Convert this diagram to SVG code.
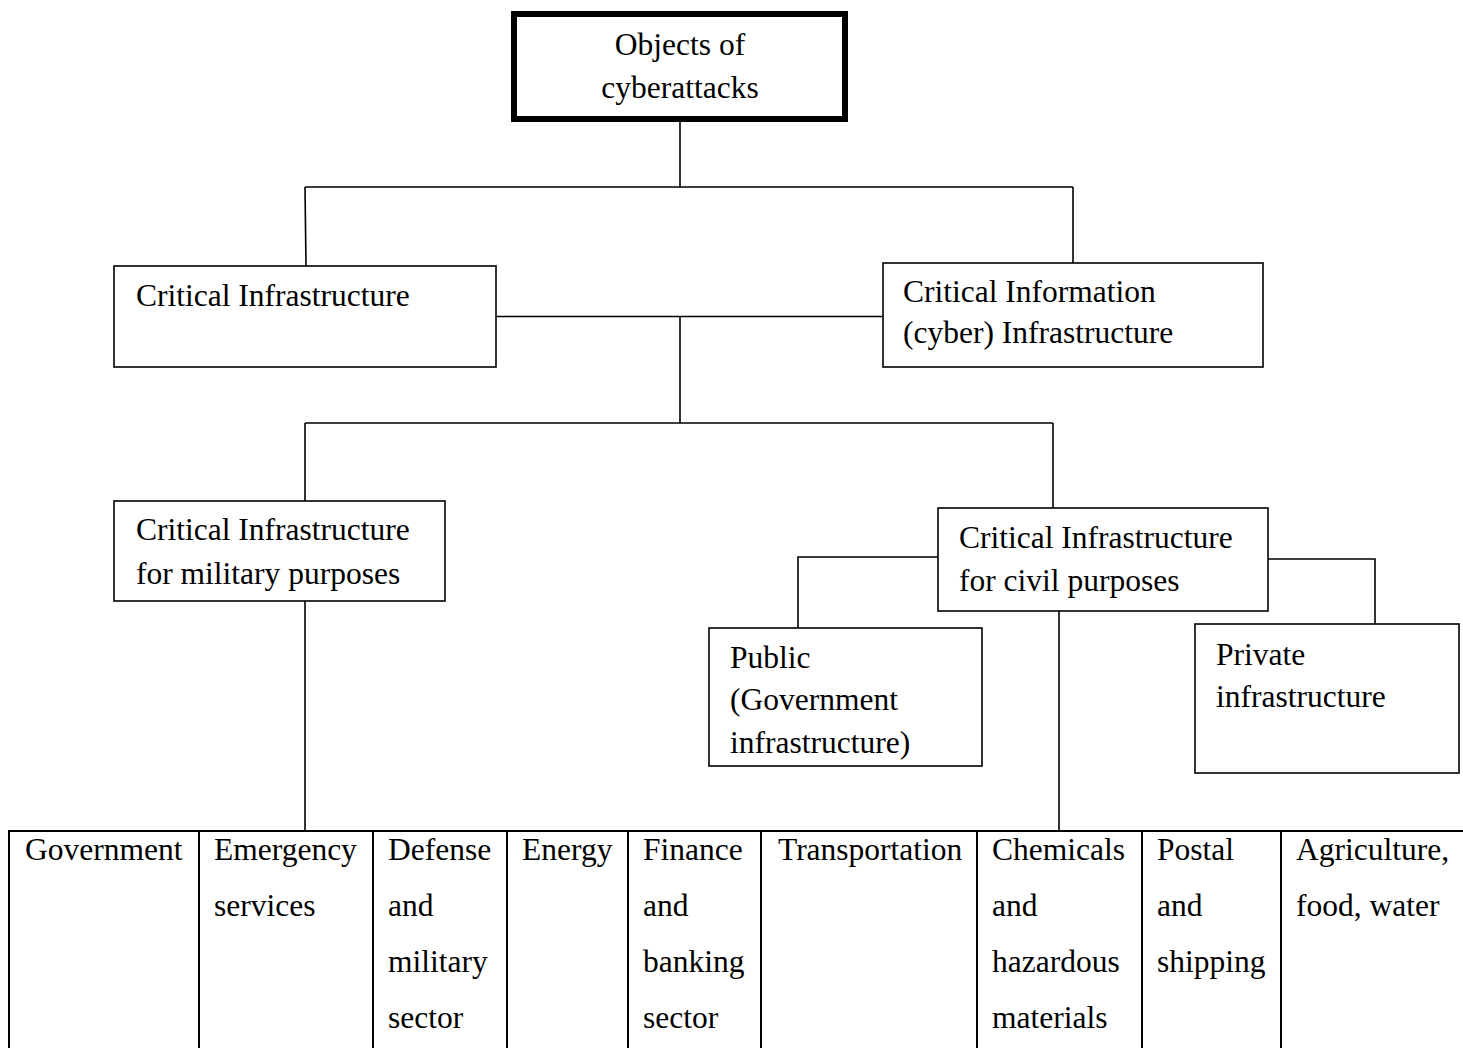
<svg xmlns="http://www.w3.org/2000/svg" width="1463" height="1048" viewBox="0 0 1463 1048">
<style>
text{font-family:"Liberation Serif","Times New Roman",serif;font-size:31.5px;fill:#000}
.box{fill:#fff;stroke:#000;stroke-width:1.6}
.con{fill:none;stroke:#000;stroke-width:1.6}
.tbl{fill:none;stroke:#000;stroke-width:2}
</style>
<rect width="1463" height="1048" fill="#fff"/>
<g id="connectors">
<path class="con" d="M680,122 V187 M305,187 H1073 M305,187 L306,266 M1073,187 V263"/>
<path class="con" d="M496,316.5 H883 M680,316.5 V423 M305,423 H1053 M305,423 V501 M1053,423 V508"/>
<path class="con" d="M938,557 H798 V628 M1268,559 H1375 V624"/>
<path class="con" d="M305,601 V830 M1059,611 V830"/>
</g>
<g id="node-objects">
<rect x="514" y="14" width="331" height="105" fill="#fff" stroke="#000" stroke-width="6"/>
<text x="680" y="55" text-anchor="middle">Objects of</text>
<text x="680" y="98" text-anchor="middle">cyberattacks</text>
</g>
<g id="node-ci">
<rect class="box" x="114" y="266" width="382" height="101"/>
<text x="136" y="306">Critical Infrastructure</text>
</g>
<g id="node-cii">
<rect class="box" x="883" y="263" width="380" height="104"/>
<text x="903" y="302">Critical Information</text>
<text x="903" y="343">(cyber) Infrastructure</text>
</g>
<g id="node-military">
<rect class="box" x="114" y="501" width="331" height="100"/>
<text x="136" y="540">Critical Infrastructure</text>
<text x="136" y="584">for military purposes</text>
</g>
<g id="node-civil">
<rect class="box" x="938" y="508" width="330" height="103"/>
<text x="959" y="548">Critical Infrastructure</text>
<text x="959" y="591">for civil purposes</text>
</g>
<g id="node-public">
<rect class="box" x="709" y="628" width="273" height="138"/>
<text x="730" y="668">Public</text>
<text x="730" y="710">(Government</text>
<text x="730" y="753">infrastructure)</text>
</g>
<g id="node-private">
<rect class="box" x="1195" y="624" width="264" height="149"/>
<text x="1216" y="665">Private</text>
<text x="1216" y="707">infrastructure</text>
</g>
<g id="node-sectors">
<rect class="tbl" x="9" y="831" width="1470" height="240"/>
<path class="tbl" d="M199,831 V1060 M373,831 V1060 M507,831 V1060 M628,831 V1060 M761,831 V1060 M977,831 V1060 M1142,831 V1060 M1281,831 V1060"/>
<text x="25" y="860">Government</text>
<text x="214" y="860">Emergency</text>
<text x="214" y="916">services</text>
<text x="388" y="860">Defense</text>
<text x="388" y="916">and</text>
<text x="388" y="972">military</text>
<text x="388" y="1028">sector</text>
<text x="522" y="860">Energy</text>
<text x="643" y="860">Finance</text>
<text x="643" y="916">and</text>
<text x="643" y="972">banking</text>
<text x="643" y="1028">sector</text>
<text x="778" y="860">Transportation</text>
<text x="992" y="860">Chemicals</text>
<text x="992" y="916">and</text>
<text x="992" y="972">hazardous</text>
<text x="992" y="1028">materials</text>
<text x="1157" y="860">Postal</text>
<text x="1157" y="916">and</text>
<text x="1157" y="972">shipping</text>
<text x="1296" y="860">Agriculture,</text>
<text x="1296" y="916">food, water</text>
</g>
</svg>
